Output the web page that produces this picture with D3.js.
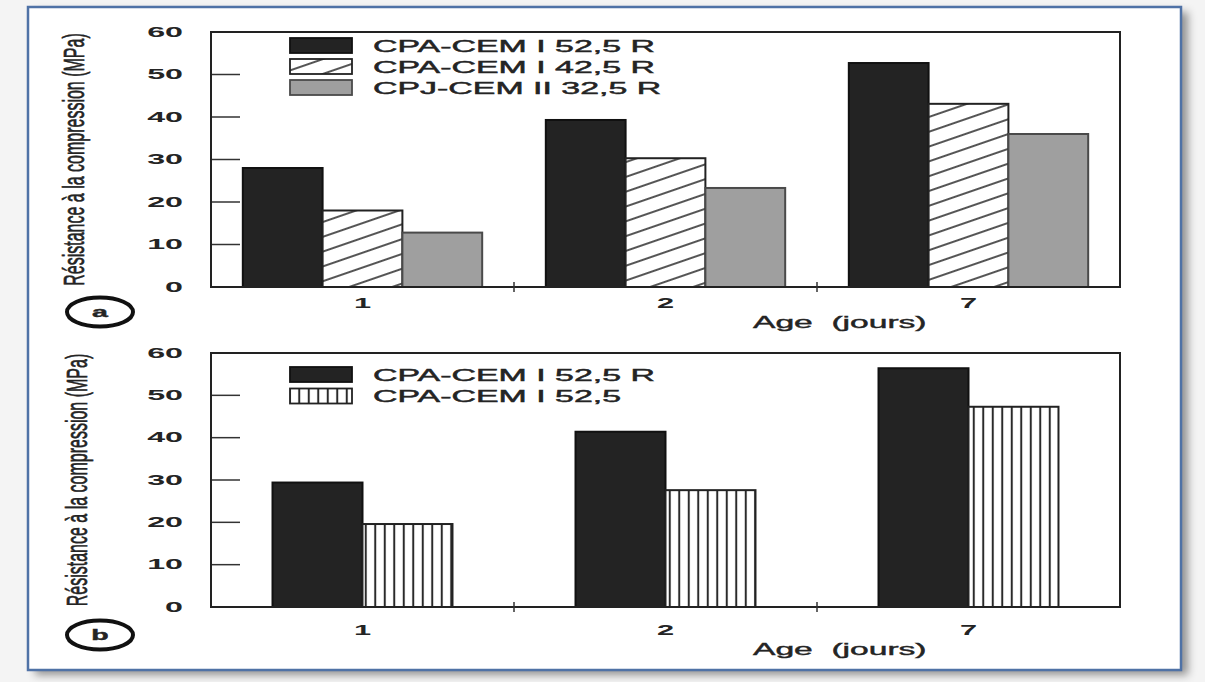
<!DOCTYPE html>
<html><head><meta charset="utf-8">
<script src="https://cdn.jsdelivr.net/npm/d3@7"></script>
<style>
html,body{margin:0;padding:0;background:#f4f4f4;}
svg{display:block;font-family:"Liberation Sans",Arial,Helvetica,sans-serif;}
</style></head><body>
<svg id="chart" width="1205" height="682"></svg>
<script>
// Compressive strength of cements at early ages
const ages = ["1", "2", "7"];
const yTickValues = [0, 10, 20, 30, 40, 50, 60];
const yInnerTicks = [10, 20, 30, 40, 50];

// (a) three cement classes
const seriesNamesA = ["CPA-CEM I 52,5 R", "CPA-CEM I 42,5 R", "CPJ-CEM II 32,5 R"];
const cem1_525R_a = [28, 39.3, 52.7];
const cem1_425R_a = [18, 30.3, 43.1];
const cem2_325R_a = [12.8, 23.3, 36];

// (b) rapid vs normal hardening 52,5
const seriesNamesB = ["CPA-CEM I 52,5 R", "CPA-CEM I 52,5"];
const cem1_525R_b = [29.4, 41.4, 56.4];
const cem1_525_b = [19.6, 27.6, 47.3];

const yAxisTitle = "Résistance à la compression (MPa)";
const xAxisTitle = "Age\u00a0\u00a0(jours)";

const svg = d3.select("#chart");
const ink = "#242424";

// ---- defs: fills and shadow ----
const defs = svg.append("defs");
const shadow = defs.append("filter").attr("id", "shadow")
  .attr("x", "-5%").attr("y", "-5%").attr("width", "115%").attr("height", "115%");
shadow.append("feDropShadow").attr("dx", 7).attr("dy", 5).attr("stdDeviation", 4.5)
  .attr("flood-color", "#000").attr("flood-opacity", 0.4);

const hatch = defs.append("pattern").attr("id", "hatch")
  .attr("patternUnits", "userSpaceOnUse").attr("width", 20).attr("height", 14)
  .attr("patternTransform", "rotate(-19)");
hatch.append("rect").attr("width", 20).attr("height", 14).attr("fill", "#fff");
hatch.append("line").attr("x1", 0).attr("x2", 20).attr("y1", 7).attr("y2", 7)
  .attr("stroke", "#2a2a2a").attr("stroke-width", 1.6);

const stripes = defs.append("pattern").attr("id", "stripes")
  .attr("patternUnits", "userSpaceOnUse").attr("width", 9.5).attr("height", 10);
stripes.append("rect").attr("width", 9.5).attr("height", 10).attr("fill", "#fff");
stripes.append("line").attr("x1", 4.75).attr("x2", 4.75).attr("y1", 0).attr("y2", 10)
  .attr("stroke", "#2a2a2a").attr("stroke-width", 2);

// ---- outer blue frame ----
svg.append("rect").attr("x", 28).attr("y", 7).attr("width", 1153).attr("height", 663)
  .attr("fill", "#fff").attr("filter", "url(#shadow)");
svg.append("rect").attr("x", 28).attr("y", 7).attr("width", 1153).attr("height", 663)
  .attr("fill", "none").attr("stroke", "#4f72a6").attr("stroke-width", 2.5);

// horizontally widened text, as the figure's lettering is extended
function wideText(parent, x, y, str, opts) {
  const o = Object.assign({ size: 16, weight: "normal", anchor: "start", sx: 2.1, thick: 0 }, opts);
  const t = parent.append("text")
    .attr("transform", `translate(${x},${y}) scale(${o.sx},1)`)
    .attr("text-anchor", o.anchor)
    .attr("dominant-baseline", "central")
    .attr("font-size", o.size)
    .attr("font-weight", o.weight)
    .attr("fill", ink)
    .text(str);
  if (o.thick) t.attr("stroke", ink).attr("stroke-width", o.thick);
  return t;
}

const x = d3.scaleBand().domain(ages).range([211, 1120]).paddingInner(0).paddingOuter(0);

function drawPanel(cfg) {
  const g = svg.append("g");
  const y = d3.scaleLinear().domain([0, 60]).range([cfg.bottom, cfg.top]);

  // y axis title (rotated, widened across)
  g.append("text")
    .attr("transform", `translate(${cfg.titleX},${(cfg.top + cfg.bottom) / 2}) rotate(-90) scale(1,1.9)`)
    .attr("text-anchor", "middle").attr("dominant-baseline", "central")
    .attr("font-size", 16).attr("fill", ink)
    .attr("stroke", ink).attr("stroke-width", 0.35)
    .text(yAxisTitle);

  // y tick labels
  yTickValues.forEach(v => wideText(g, 183, y(v), String(v),
    { size: 14, weight: "bold", anchor: "end", sx: 2.3 }));

  // inner y ticks
  g.selectAll(".ytick").data(yInnerTicks).join("line")
    .attr("x1", 211).attr("x2", 240)
    .attr("y1", d => y(d)).attr("y2", d => y(d))
    .attr("stroke", "#333").attr("stroke-width", 1.5);

  // bars
  const groupW = x.bandwidth() * cfg.groupFrac;
  const inner = d3.scaleBand().domain(d3.range(cfg.series.length)).range([0, groupW]);
  cfg.series.forEach((s, si) => {
    g.selectAll(null).data(s.values).join("rect")
      .attr("x", (d, i) => x(ages[i]) + (x.bandwidth() - groupW) / 2 + inner(si))
      .attr("y", d => y(d))
      .attr("width", inner.bandwidth())
      .attr("height", d => y(0) - y(d))
      .attr("fill", s.fill)
      .attr("stroke", s.stroke)
      .attr("stroke-width", 2);
  });

  // plot frame
  g.append("rect").attr("x", 211).attr("y", cfg.top)
    .attr("width", 1120 - 211).attr("height", cfg.bottom - cfg.top)
    .attr("fill", "none").attr("stroke", "#222").attr("stroke-width", 2);

  // x ticks between age groups
  g.selectAll(".xtick").data(ages.slice(1)).join("line")
    .attr("x1", d => x(d)).attr("x2", d => x(d))
    .attr("y1", cfg.bottom - 5).attr("y2", cfg.bottom + 5)
    .attr("stroke", "#333").attr("stroke-width", 1.5);

  // category labels
  ages.forEach(a => wideText(g, x(a) + x.bandwidth() / 2, cfg.labelY, a,
    { size: 14, weight: "bold", anchor: "middle", sx: 2.2 }));

  // x axis title
  wideText(g, 753, cfg.xTitleY, xAxisTitle, { size: 16, sx: 2.1, thick: 0.4 });

  // legend
  cfg.series.forEach((s, si) => {
    const cy = cfg.legendY + si * cfg.legendStep;
    g.append("rect").attr("x", 290).attr("y", cy - 7.5).attr("width", 62).attr("height", 15)
      .attr("fill", s.fill).attr("stroke", s.stroke).attr("stroke-width", 1.8);
    wideText(g, 373, cy + 1, s.name, { size: 16, sx: 2.12, thick: 0.45 });
  });

  // panel tag
  g.append("ellipse").attr("cx", 100).attr("cy", cfg.tagY).attr("rx", 33).attr("ry", 14.5)
    .attr("fill", "none").attr("stroke", "#111").attr("stroke-width", 4);
  wideText(g, 100, cfg.tagY, cfg.tag, { size: 15, weight: "bold", anchor: "middle", sx: 1.9, thick: 0.4 });
}

drawPanel({
  top: 32, bottom: 287, groupFrac: 0.79, titleX: 73,
  labelY: 303, xTitleY: 323, legendY: 45.5, legendStep: 21, tag: "a", tagY: 312,
  series: [
    { name: seriesNamesA[0], values: cem1_525R_a, fill: "#232323", stroke: "#111" },
    { name: seriesNamesA[1], values: cem1_425R_a, fill: "url(#hatch)", stroke: "#222" },
    { name: seriesNamesA[2], values: cem2_325R_a, fill: "#9f9f9f", stroke: "#4a4a4a" }
  ]
});

drawPanel({
  top: 353, bottom: 607, groupFrac: 0.594, titleX: 76,
  labelY: 630, xTitleY: 650, legendY: 374.5, legendStep: 21.5, tag: "b", tagY: 635,
  series: [
    { name: seriesNamesB[0], values: cem1_525R_b, fill: "#232323", stroke: "#111" },
    { name: seriesNamesB[1], values: cem1_525_b, fill: "url(#stripes)", stroke: "#222" }
  ]
});
</script>
</body></html>
